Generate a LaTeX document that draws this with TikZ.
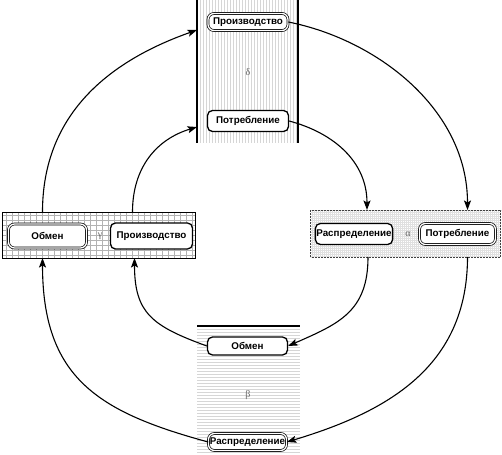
\documentclass[tikz,border=0pt]{standalone}
\usepackage{fontspec}
\setsansfont{Liberation Sans}
\newfontfamily\greekfont{Liberation Serif}
\usetikzlibrary{arrows.meta,calc}

\tikzset{
  sector/.style={inner sep=0pt, outer sep=0pt},
  hatching/.style={black!16, line width=0.35pt},
  stage/.style={draw, fill=white, rounded corners=5pt, line width=1.3pt, inner sep=1pt,
    font=\sffamily\bfseries\fontsize{9.8}{11}\selectfont},
  mainstage/.style={stage, rounded corners=6pt, line width=0.7pt, double=white, double distance=1.3pt},
  letter/.style={text=black!60, font=\greekfont\fontsize{10}{11}\selectfont},
  flow/.style={line width=1.1pt, -{Stealth[length=9.5pt,width=7pt,inset=2pt]}},
}

\begin{document}
\begin{tikzpicture}[x=1pt,y=-1pt]
\useasboundingbox (0,0) rectangle (502,454);

\def\xl{47.5}
\def\xg{151.5}
\def\xm{248}
\def\xa{354}
\def\xr{457.5}

\def\yt{22}
\def\yd{121}
\def\ymid{235}
\def\yo{346}
\def\yb{442}

% four sectors
\node[sector, minimum width=101, minimum height=148] (pdelta) at (247.5, 69) {};
\node[sector, minimum width=193, minimum height=46] (pgamma) at (98.5, \ymid) {};
\node[sector, minimum width=190, minimum height=47] (palpha) at (405.5, 233.5) {};
\node[sector, minimum width=103, minimum height=130] (pbeta) at (248.5, 391) {};

\begin{scope}
  \clip (pdelta.south west) rectangle (pdelta.north east);
  \foreach \i in {0,...,34} \draw[hatching] ([xshift=3*\i pt]pdelta.south west) -- ([xshift=3*\i pt]pdelta.north west);
\end{scope}
\begin{scope}
  \clip (pbeta.south west) rectangle (pbeta.north east);
  \foreach \i in {0,...,44} \draw[hatching] ([yshift=-3*\i pt]pbeta.north west) -- ([yshift=-3*\i pt]pbeta.north east);
\end{scope}
\begin{scope}
  \clip (pgamma.south west) rectangle (pgamma.north east);
  \draw[hatching, black!30, xstep=6pt, ystep=5pt] (pgamma.south west) grid (pgamma.north east);
\end{scope}
\begin{scope}
  \clip (palpha.south west) rectangle (palpha.north east);
  \draw[hatching, black!12, line width=0.3pt, step=2pt] (palpha.south west) grid (palpha.north east);
\end{scope}

\draw[line width=1pt] (pgamma.south west) rectangle (pgamma.north east);
\draw[black!75, dash pattern=on 2pt off 1pt, line width=0.8pt] (palpha.south west) rectangle (palpha.north east);
\draw[line width=1.3pt] (pdelta.north west) -- (pdelta.south west);
\draw[line width=1.3pt] (pdelta.north east) -- (pdelta.south east);
\draw[line width=1.3pt] (pbeta.north west) -- (pbeta.north east);

% stages
\node[mainstage, minimum width=80, minimum height=17] (prT) at (\xm, \yt) {Производство};
\node[stage, minimum width=81, minimum height=21] (poT) at (\xm, \yd) {Потребление};

\node[mainstage, minimum width=78, minimum height=24] (obL) at (\xl, 236) {Обмен};
\node[stage, minimum width=82, minimum height=26] (prL) at (\xg, 236) {Производство};

\node[stage, minimum width=77, minimum height=21] (raR) at (\xa, 234) {Распределение};
\node[mainstage, minimum width=76, minimum height=21] (poR) at (\xr, 234) {Потребление};

\node[stage, minimum width=80, minimum height=18] (obB) at (247.5, \yo) {Обмен};
\node[mainstage, minimum width=78, minimum height=17] (raB) at (247.5, \yb) {Распределение};

\node[letter] (ldelta) at (\xm, 72) {δ};
\node[letter] (lgamma) at (100, 236) {γ};
\node[letter] (lalpha) at (408, 234) {α};
\node[letter] (lbeta) at (\xm, 395) {β};

% outer cycle
\draw[flow] ($(pgamma.north -| obL)+(-5,0)$) .. controls +(0,-100) and +(-85,30) .. ($(pdelta.west |- prT)+(0,8)$);
\draw[flow] (prT.east) .. controls +(90,18) and +(0,-100) .. ($(palpha.north -| poR)+(10,0)$);
\draw[flow] ($(palpha.south -| poR)+(10,0)$) .. controls +(0,110) and +(100,-30) .. (raB.east);
\draw[flow] (raB.west) .. controls +(-110,-30) and +(0,120) .. ($(pgamma.south -| obL)+(-5,0)$);

% inner cycle
\draw[flow] ($(pgamma.north -| prL)+(-19,0)$) .. controls +(0,-45) and +(-40,12) .. ($(pdelta.west |- poT)+(0,6)$);
\draw[flow] (poT.east) .. controls +(45,12) and +(0,-48) .. ($(palpha.north -| raR)+(13,0)$);
\draw[flow] ($(palpha.south -| raR)+(14,0)$) .. controls +(0,55) and +(50,-22) .. (obB.east);
\draw[flow] (obB.west) .. controls +(-55,-20) and +(0,55) .. ($(pgamma.south -| prL)+(-17,0)$);

\end{tikzpicture}
\end{document}
